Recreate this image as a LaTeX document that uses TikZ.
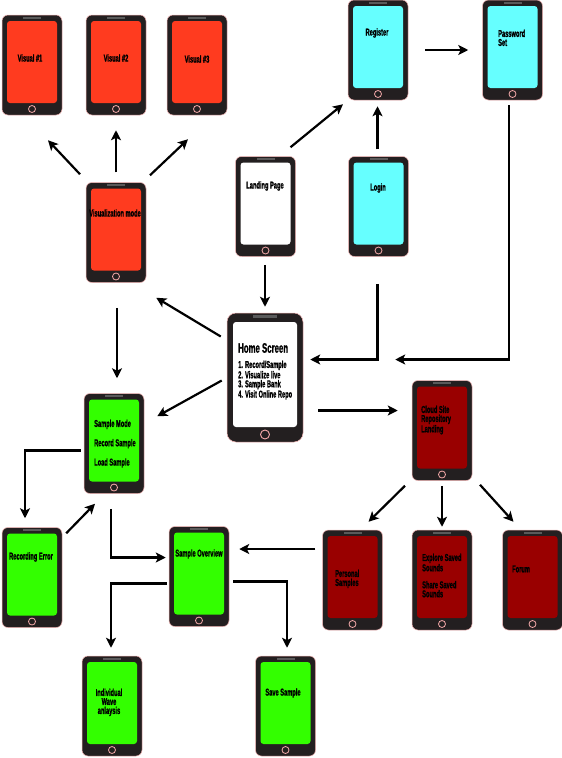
\documentclass[tikz,border=0pt]{standalone}
\usepackage{fontspec}
\newfontfamily\condfont{Liberation Sans}[FakeStretch=0.57, UprightFont={* Bold}, FakeBold=1.2]
\usetikzlibrary{arrows.meta,calc}
\definecolor{PhoneBody}{HTML}{231F20}
\definecolor{PhoneEdge}{HTML}{F4B6B6}
\definecolor{SpeakerGray}{HTML}{5A5A5A}
\definecolor{ButtonPink}{HTML}{F4A9A9}
\definecolor{VisRed}{HTML}{FF3B1F}
\definecolor{AuthCyan}{HTML}{66FFFF}
\definecolor{SampleGreen}{HTML}{33FF00}
\definecolor{RepoRed}{HTML}{990000}
\tikzset{
  phone/.style={rectangle, rounded corners=6pt, fill=PhoneBody, draw=PhoneEdge, line width=0.5pt,
    minimum width=60pt, minimum height=100pt, inner sep=0pt,
    path picture={
      \fill[#1, rounded corners=3pt] ([shift={(5pt,-6pt)}]path picture bounding box.north west) rectangle ([shift={(-5pt,12pt)}]path picture bounding box.south east);
      \fill[SpeakerGray, sharp corners] ([shift={(-9pt,-1.5pt)}]path picture bounding box.north) rectangle ([shift={(9pt,-3.5pt)}]path picture bounding box.north);
      \draw[ButtonPink, line width=0.8pt] ([yshift=6pt]path picture bounding box.south) circle (3.5pt);
    }},
  homephone/.style={rectangle, rounded corners=9pt, fill=PhoneBody, draw=PhoneEdge, line width=0.5pt,
    minimum width=76pt, minimum height=129pt, inner sep=0pt,
    path picture={
      \fill[white, rounded corners=3pt] ([shift={(6pt,-9pt)}]path picture bounding box.north west) rectangle ([shift={(-6pt,15pt)}]path picture bounding box.south east);
      \fill[SpeakerGray, sharp corners] ([shift={(-12pt,-2pt)}]path picture bounding box.north) rectangle ([shift={(12pt,-4.5pt)}]path picture bounding box.north);
      \draw[ButtonPink, line width=0.9pt] ([yshift=7.5pt]path picture bounding box.south) circle (4.5pt);
    }},
  screentext/.style={font=\condfont\fontsize{10}{9}\selectfont, inner sep=0pt, text=black},
  flow/.style={-{Stealth[length=10pt,width=10pt,inset=2.5pt]}, line width=2.2pt, black},
}
\begin{document}
\begin{tikzpicture}[x=1pt,y=-1pt]
  \useasboundingbox[fill=white] (0,0) rectangle (562,758);
  % phones
  \node[phone=VisRed] (vis1) at (32,65) {};
  \node[phone=VisRed] (vis2) at (116,65) {};
  \node[phone=VisRed] (vis3) at (197,65) {};
  \node[phone=AuthCyan] (reg) at (378,50) {};
  \node[phone=AuthCyan] (pass) at (512.5,50) {};
  \node[phone=white] (land) at (265.5,206.5) {};
  \node[phone=AuthCyan] (login) at (378.5,206.5) {};
  \node[phone=VisRed] (vism) at (116,232.5) {};
  \node[homephone] (home) at (265,377.5) {};
  \node[phone=RepoRed] (cloud) at (442,430.5) {};
  \node[phone=SampleGreen] (smode) at (114,443.5) {};
  \node[phone=SampleGreen] (recerr) at (32,577.5) {};
  \node[phone=SampleGreen] (overv) at (199,576.5) {};
  \node[phone=RepoRed] (pers) at (352.5,580) {};
  \node[phone=RepoRed] (expl) at (442,580) {};
  \node[phone=RepoRed] (forum) at (532.5,580) {};
  \node[phone=SampleGreen] (wave) at (112,706) {};
  \node[phone=SampleGreen] (save) at (285.5,706) {};
  % screen texts
  \node[screentext] (vis1-txt) at (30,58) {Visual \#1};
  \node[screentext] (vis2-txt) at (116,58) {Visual \#2};
  \node[screentext] (vis3-txt) at (197,59) {Visual \#3};
  \node[screentext] (reg-txt) at (377,33) {Register};
  \node[screentext, align=left, anchor=north west] (pass-txt) at (498,29.5) {Password\\Set};
  \node[screentext] (land-txt) at (265,186) {Landing Page};
  \node[screentext] (login-txt) at (378,188) {Login};
  \node[screentext] (vism-txt) at (115,213) {Visualization mode};
  \node[screentext, font=\condfont\fontsize{13.7}{14}\selectfont, anchor=west] (home-title) at (238,348) {Home Screen};
  \node[screentext, align=left, anchor=north west] (home-list) at (238,360.5) {1. Record/Sample\\2. Visualize live\\3. Sample Bank\\4. Visit Online Repo};
  \node[screentext, align=left, anchor=north west] (cloud-txt) at (421,405.5) {Cloud Site\\Repository\\Landing};
  \node[screentext, align=left, anchor=north west] (smode-txt) at (94,419.5) {Sample Mode\\[9pt]Record Sample\\[9pt]Load Sample};
  \node[screentext] (recerr-txt) at (31,557) {Recording Error};
  \node[screentext] (overv-txt) at (199,554) {Sample Overview};
  \node[screentext, align=left, anchor=north west] (pers-txt) at (335,569.5) {Personal\\Samples};
  \node[screentext, align=left, anchor=north west] (expl-txt) at (422,553.5) {Explore Saved\\Sounds\\[8pt]Share Saved\\Sounds};
  \node[screentext, anchor=west] (forum-txt) at (512,569) {Forum};
  \node[screentext, align=center, anchor=north] (wave-txt) at (109,688.5) {Individual\\Wave\\anlaysis};
  \node[screentext] (save-txt) at (283,693) {Save Sample};
  % arrows
  \draw[flow] ([shift={(-36,-8)}]vism.north) -- ([shift={(16,25)}]vis1.south);
  \draw[flow] ([shift={(0,-10)}]vism.north) -- ([shift={(0,15)}]vis2.south);
  \draw[flow] ([shift={(34,-7)}]vism.north) -- ([shift={(-9,24)}]vis3.south);
  \draw[flow] ([shift={(25,-9)}]land.north) -- ([shift={(-35,4)}]reg.south);
  \draw[flow] ([shift={(-1,-7)}]login.north) -- ([shift={(-0.5,6)}]reg.south);
  \draw[flow] ([shift={(17,0)}]reg.east) -- ([shift={(-14,0)}]pass.west);
  \draw[flow] ([shift={(-0.5,8)}]land.south) -- ([shift={(0,-6)}]home.north);
  \draw[flow] ([shift={(-1,27)}]login.south) |- ([shift={(7,-18)}]home.east);
  \draw[flow] ([shift={(-3.5,5)}]pass.south) |- ([shift={(92,-18)}]home.east);
  \draw[flow] ([shift={(-6,-41)}]home.west) -- ([shift={(10,15)}]vism.south east);
  \draw[flow] ([shift={(-5,3)}]home.west) -- ([shift={(13,23)}]smode.north east);
  \draw[flow] ([shift={(15,33)}]home.east) -- ([shift={(-14,-20)}]cloud.west);
  \draw[flow] ([shift={(1,25)}]vism.south) -- ([shift={(3,-15)}]smode.north);
  \draw[flow] ([shift={(-3,7)}]smode.west) -| ([shift={(-7,-9)}]recerr.north);
  \draw[flow] ([shift={(4,6)}]recerr.north east) -- ([shift={(-19,10)}]smode.south);
  \draw[flow] ([shift={(-3,15)}]smode.south) |- ([shift={(-3,-19)}]overv.west);
  \draw[flow] ([shift={(-2,7)}]overv.west) -| ([shift={(-1,-8)}]wave.north);
  \draw[flow] ([shift={(4,5)}]overv.east) -| ([shift={(1.5,-8)}]save.north);
  \draw[flow] ([shift={(-37,5)}]cloud.south) -- ([shift={(16,-8)}]pers.north);
  \draw[flow] ([shift={(0,5)}]cloud.south) -- ([shift={(0,-3)}]expl.north);
  \draw[flow] ([shift={(38,4)}]cloud.south) -- ([shift={(-19,-8)}]forum.north);
  \draw[flow] ([shift={(-7,-31)}]pers.west) -- ([shift={(10,-27.5)}]overv.east);
\end{tikzpicture}
\end{document}
